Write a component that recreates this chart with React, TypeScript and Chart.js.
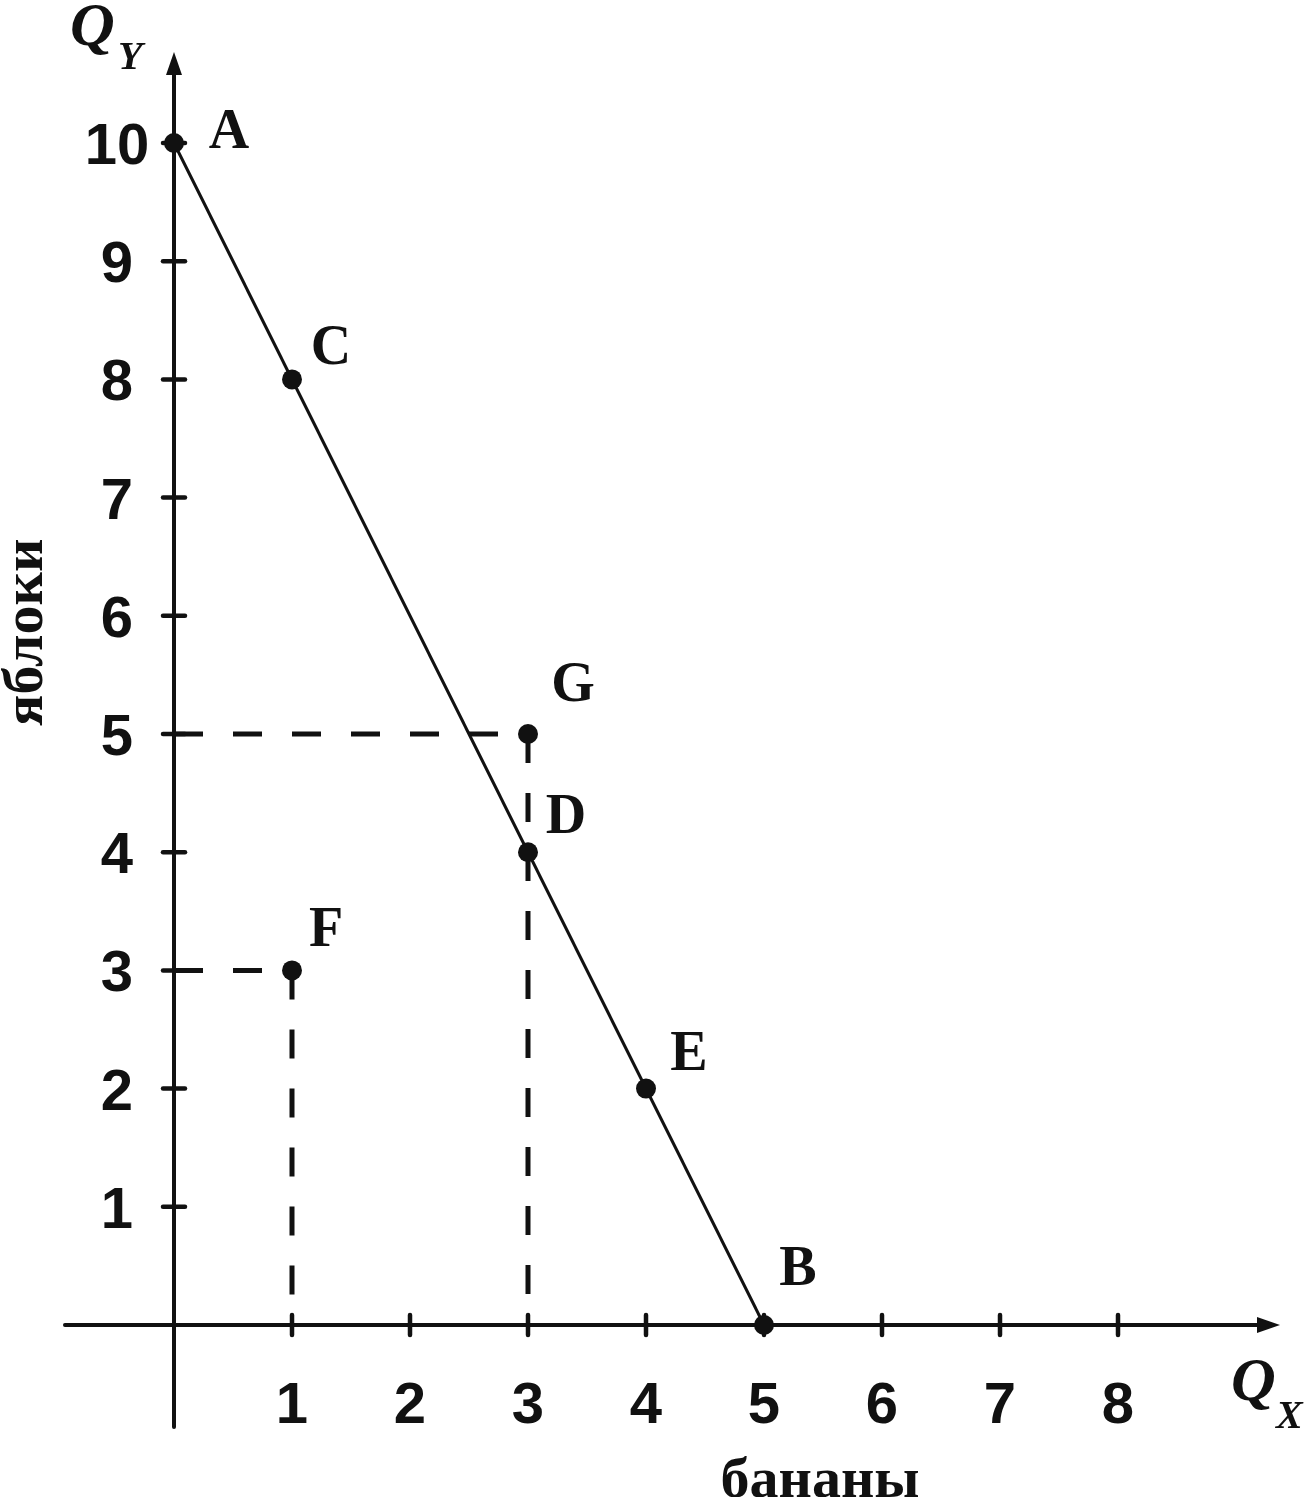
import React, { useEffect, useRef } from "react";
import { Chart, registerables } from "chart.js";

Chart.register(...registerables);

// ---- data ----
const xTicks = [1, 2, 3, 4, 5, 6, 7, 8];
const yTicks = [1, 2, 3, 4, 5, 6, 7, 8, 9, 10];
const ppfX = [0, 5];
const ppfY = [10, 0];
const pointNames = ["A", "C", "D", "E", "B", "F", "G"];
const pointX = [0, 1, 3, 4, 5, 1, 3];
const pointY = [10, 8, 4, 2, 0, 3, 5];
// dashed guides: from [x, y] to [x, y]
const guideFrom = [
  [0, 5],
  [3, 5],
  [0, 3],
  [1, 3],
];
const guideTo = [
  [3, 5],
  [3, 0],
  [1, 3],
  [1, 0],
];
const xTitle = "бананы";
const yTitle = "яблоки";
const xAxisSymbol = ["Q", "X"];
const yAxisSymbol = ["Q", "Y"];

// ---- style ----
const W = 1311;
const H = 1497;
const X_MIN = -174 / 118;
const X_MAX = X_MIN + W / 118;
const Y_MAX = 1325 / 118.2;
const Y_MIN = Y_MAX - H / 118.2;
const AXIS_X_FROM = -0.924;
const AXIS_X_TIP = 9.373;
const AXIS_Y_FROM = -0.863;
const AXIS_Y_TIP = 10.77;
const labelOffsets: Record<string, [number, number]> = {
  A: [55, 5],
  C: [39, -15],
  D: [38, -19],
  E: [43, -19],
  B: [34, -40],
  F: [34, -24],
  G: [45, -33],
};
const INK = "#111111";

const drawPlugin = {
  id: "econAxes",
  beforeDatasetsDraw(chart: any) {
    const ctx = chart.ctx as CanvasRenderingContext2D;
    const xs = chart.scales.x;
    const ys = chart.scales.y;
    const x0 = xs.getPixelForValue(0);
    const y0 = ys.getPixelForValue(0);
    ctx.save();
    ctx.strokeStyle = INK;
    ctx.fillStyle = INK;
    ctx.lineWidth = 4;
    ctx.lineCap = "round";
    // x axis
    const xa = xs.getPixelForValue(AXIS_X_FROM);
    const xt = xs.getPixelForValue(AXIS_X_TIP);
    ctx.beginPath();
    ctx.moveTo(xa, y0);
    ctx.lineTo(xt - 20, y0);
    ctx.stroke();
    ctx.beginPath();
    ctx.moveTo(xt, y0);
    ctx.lineTo(xt - 23, y0 - 8);
    ctx.lineTo(xt - 23, y0 + 8);
    ctx.closePath();
    ctx.fill();
    // y axis
    const ya = ys.getPixelForValue(AXIS_Y_FROM);
    const yt = ys.getPixelForValue(AXIS_Y_TIP);
    ctx.beginPath();
    ctx.moveTo(x0, ya);
    ctx.lineTo(x0, yt + 20);
    ctx.stroke();
    ctx.beginPath();
    ctx.moveTo(x0, yt);
    ctx.lineTo(x0 - 8, yt + 23);
    ctx.lineTo(x0 + 8, yt + 23);
    ctx.closePath();
    ctx.fill();
    // ticks
    ctx.lineWidth = 4.5;
    xTicks.forEach((v) => {
      const px = xs.getPixelForValue(v);
      ctx.beginPath();
      ctx.moveTo(px, y0 - 10);
      ctx.lineTo(px, y0 + 10);
      ctx.stroke();
    });
    yTicks.forEach((v) => {
      const py = ys.getPixelForValue(v);
      ctx.beginPath();
      ctx.moveTo(x0 - 11, py);
      ctx.lineTo(x0 + 11, py);
      ctx.stroke();
    });
    ctx.restore();
  },
  afterDatasetsDraw(chart: any) {
    const ctx = chart.ctx as CanvasRenderingContext2D;
    const xs = chart.scales.x;
    const ys = chart.scales.y;
    const x0 = xs.getPixelForValue(0);
    const y0 = ys.getPixelForValue(0);
    ctx.save();
    ctx.fillStyle = INK;
    ctx.textBaseline = "alphabetic";
    // tick labels
    ctx.font = "bold 58px 'Liberation Sans', Arial, sans-serif";
    ctx.textAlign = "center";
    xTicks.forEach((v) => {
      ctx.fillText(String(v), xs.getPixelForValue(v), y0 + 98);
    });
    yTicks.forEach((v) => {
      ctx.fillText(String(v), x0 - 57, ys.getPixelForValue(v) + 21);
    });
    // point labels
    ctx.font = "bold 56px 'Liberation Serif', 'Times New Roman', serif";
    pointNames.forEach((n, i) => {
      const off = labelOffsets[n] || [30, -20];
      ctx.fillText(
        n,
        xs.getPixelForValue(pointX[i]) + off[0],
        ys.getPixelForValue(pointY[i]) + off[1]
      );
    });
    // axis titles
    ctx.font = "bold 58px 'Liberation Serif', 'Times New Roman', serif";
    ctx.fillText(xTitle, xs.getPixelForValue(5.475), y0 + 172);
    ctx.save();
    ctx.translate(x0 - 132, ys.getPixelForValue(5.86));
    ctx.rotate(-Math.PI / 2);
    ctx.fillText(yTitle, 0, 0);
    ctx.restore();
    // axis symbols
    ctx.textAlign = "left";
    const yt = ys.getPixelForValue(AXIS_Y_TIP);
    ctx.font = "italic bold 62px 'Liberation Serif', 'Times New Roman', serif";
    ctx.fillText(yAxisSymbol[0], x0 - 104, yt - 7);
    ctx.font = "italic bold 40px 'Liberation Serif', 'Times New Roman', serif";
    ctx.fillText(yAxisSymbol[1], x0 - 56, yt + 17);
    const xt = xs.getPixelForValue(AXIS_X_TIP);
    ctx.font = "italic bold 62px 'Liberation Serif', 'Times New Roman', serif";
    ctx.fillText(xAxisSymbol[0], xt - 49, y0 + 75);
    ctx.font = "italic bold 40px 'Liberation Serif', 'Times New Roman', serif";
    ctx.fillText(xAxisSymbol[1], xt - 4, y0 + 103);
    ctx.restore();
  },
};

export default function App() {
  const ref = useRef<HTMLCanvasElement | null>(null);
  useEffect(() => {
    if (!ref.current) return;
    const guideSets = guideFrom.map((f, i) => ({
      data: [
        { x: f[0], y: f[1] },
        { x: guideTo[i][0], y: guideTo[i][1] },
      ],
      showLine: true,
      borderColor: INK,
      borderWidth: 5,
      borderDash: [29, 30],
      borderCapStyle: "butt" as const,
      pointRadius: 0,
      fill: false,
    }));
    const chart = new Chart(ref.current, {
      type: "scatter",
      data: {
        datasets: [
          {
            data: pointX.map((x, i) => ({ x, y: pointY[i] })),
            backgroundColor: INK,
            borderColor: INK,
            borderWidth: 0,
            pointRadius: 10,
            pointHoverRadius: 10,
            showLine: false,
          },
          {
            data: ppfX.map((x, i) => ({ x, y: ppfY[i] })),
            showLine: true,
            borderColor: INK,
            borderWidth: 3,
            pointRadius: 0,
            fill: false,
          },
          ...guideSets,
        ],
      },
      options: {
        animation: false,
        responsive: false,
        devicePixelRatio: 1,
        layout: { padding: 0, autoPadding: false },
        events: [],
        plugins: {
          legend: { display: false },
          tooltip: { enabled: false },
        },
        scales: {
          x: { type: "linear", min: X_MIN, max: X_MAX, display: false },
          y: { type: "linear", min: Y_MIN, max: Y_MAX, display: false },
        },
      },
      plugins: [drawPlugin],
    });
    return () => chart.destroy();
  }, []);
  return (
    <div
      style={{
        position: "absolute",
        left: 0,
        top: 0,
        width: W,
        height: H,
        background: "#ffffff",
        overflow: "hidden",
      }}
    >
      <canvas ref={ref} width={W} height={H} style={{ display: "block", width: W, height: H }} />
    </div>
  );
}
